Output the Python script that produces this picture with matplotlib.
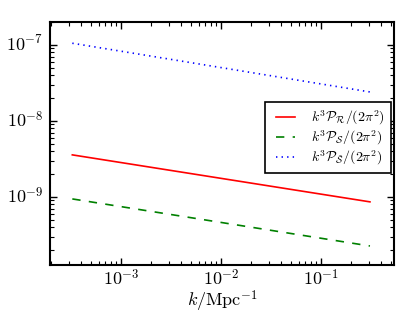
import matplotlib
matplotlib.use("Agg")
import matplotlib.pyplot as plt
from matplotlib.ticker import FuncFormatter
import numpy as np

# valores (extremos de cada recta en log-log)
k = [3.26e-4, 0.31]
P_R = [3.57e-9, 8.6e-10]
P_S = [9.4e-10, 2.26e-10]
P_St = [1.05e-7, 2.4e-8]

etiquetas = [r"$k^3\mathcal{P}_\mathcal{R}/(2\pi^2)$",
             r"$k^3\mathcal{P}_\mathcal{S}/(2\pi^2)$",
             r"$k^3\mathcal{P}_{\tilde{\mathcal{S}}}/(2\pi^2)$"]

plt.style.use("classic")
plt.rcParams["mathtext.fontset"] = "cm"

def potencia(v, pos):
    return r"$10^{%d}$" % int(round(np.log10(v)))

fig = plt.figure(figsize=(4.15, 3.12), dpi=100, facecolor="white")
ax = fig.add_axes([0.1205, 0.1506, 0.829, 0.779])

ax.loglog(k, P_R, "r-", lw=1.2, label=etiquetas[0])
ax.loglog(k, P_S, "g--", lw=1.2, label=etiquetas[1])
ax.loglog(k, P_St, "b:", lw=1.2, label=etiquetas[2])

ax.set_xlim(1.95e-4, 0.54)
ax.set_ylim(1.27e-10, 2.0e-7)
ax.xaxis.set_major_formatter(FuncFormatter(potencia))
ax.yaxis.set_major_formatter(FuncFormatter(potencia))
ax.set_xlabel(r"$k/\mathrm{Mpc}^{-1}$", fontsize=13, labelpad=-1)

for s in ax.spines.values():
    s.set_linewidth(1.5)
ax.tick_params(which="major", length=5, width=1, labelsize=13, direction="in")
ax.tick_params(axis="x", which="major", pad=3)
ax.tick_params(axis="y", which="major", pad=5)
ax.tick_params(which="minor", length=3, width=0.8, direction="in")

leg = ax.legend(loc="upper right", bbox_to_anchor=(0.99, 0.67), fontsize=10,
                numpoints=2, handlelength=2.0, handletextpad=0.8,
                borderaxespad=0.0, labelspacing=0.12, borderpad=0.45)
leg.get_frame().set_linewidth(1.2)
leg.get_frame().set_edgecolor("black")

fig.savefig("out.png", dpi=100, facecolor="white")
